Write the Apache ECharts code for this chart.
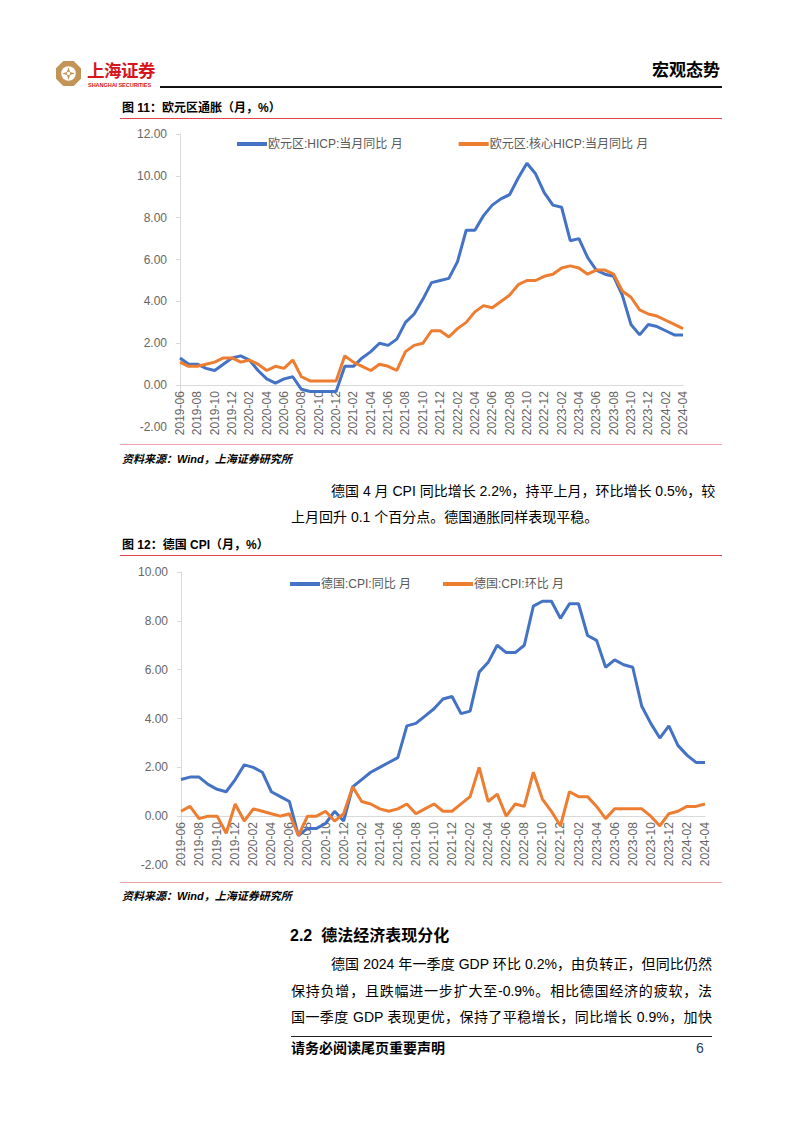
<!DOCTYPE html>
<html><head><meta charset="utf-8">
<script src="https://cdn.jsdelivr.net/npm/echarts/dist/echarts.min.js"></script>
<style>
html,body{margin:0;padding:0;background:#fff;}
#page{position:relative;width:802px;height:1133px;overflow:hidden;background:#fff;font-family:"Liberation Sans","Noto Sans CJK SC",sans-serif;color:#000;}
.t{position:absolute;white-space:nowrap;}
.ln{position:absolute;}
.just{text-align:justify;text-align-last:justify;}
</style></head>
<body><div id="page">
<svg class="ln" style="left:56px;top:61px" width="25" height="25" viewBox="0 0 24 24">
  <polygon points="7,0 17,0 24,7 24,17 17,24 7,24 0,17 0,7" fill="#C39457"/>
  <circle cx="12" cy="12" r="7" fill="#fff"/>
  <polygon points="12,6 13.5,10.5 18,12 13.5,13.5 12,18 10.5,13.5 6,12 10.5,10.5" fill="#C39457"/>
  <circle cx="12" cy="12" r="1.6" fill="#fff"/>
</svg>
<div class="t" style="left:87px;top:61px;font-size:17.5px;line-height:20px;font-weight:bold;color:#D5161E;letter-spacing:-0.5px">上海证券</div>
<div class="t" style="left:88px;top:82px;font-size:5.6px;line-height:7px;font-weight:bold;color:#D5161E;letter-spacing:-0.1px">SHANGHAI SECURITIES</div>
<div class="t" style="left:652px;top:61px;font-size:17px;line-height:20px;font-weight:bold">宏观态势</div>
<div class="ln" style="left:160px;top:86px;width:562px;height:2px;background:#111"></div>

<div class="t" style="left:122px;top:101px;font-size:12px;line-height:14px;font-weight:bold">图 11：欧元区通胀（月，%）</div>
<div class="ln" style="left:120px;top:118px;width:602px;height:1px;background:#E2434B"></div>

<div id="c1" class="ln" style="left:0;top:120px;width:802px;height:330px"></div>

<div class="ln" style="left:120px;top:444px;width:602px;height:1px;background:#F0A3A7;z-index:3"></div>
<div class="t" style="left:122px;top:452px;font-size:11px;line-height:14px;font-weight:bold;font-style:italic">资料来源：Wind，上海证券研究所</div>

<div class="t just" style="left:331px;top:482px;width:381px;font-size:14px;line-height:18px">德国 4 月 CPI 同比增长 2.2%，持平上月，环比增长 0.5%，较</div>
<div class="t" style="left:291px;top:508px;font-size:14px;line-height:18px">上月回升 0.1 个百分点。德国通胀同样表现平稳。</div>

<div class="t" style="left:122px;top:538px;font-size:12px;line-height:14px;font-weight:bold">图 12：德国 CPI（月，%）</div>
<div class="ln" style="left:120px;top:555px;width:602px;height:1px;background:#E2434B"></div>

<div id="c2" class="ln" style="left:0;top:557px;width:802px;height:330px"></div>

<div class="ln" style="left:120px;top:882px;width:602px;height:1px;background:#F0A3A7;z-index:3"></div>
<div class="t" style="left:122px;top:889px;font-size:11px;line-height:14px;font-weight:bold;font-style:italic">资料来源：Wind，上海证券研究所</div>

<div class="t" style="left:290px;top:926px;font-size:16px;line-height:20px;font-weight:bold">2.2&nbsp; 德法经济表现分化</div>
<div class="t just" style="left:331px;top:955px;width:381px;font-size:14px;line-height:18px">德国 2024 年一季度 GDP 环比 0.2%，由负转正，但同比仍然</div>
<div class="t just" style="left:291px;top:982px;width:421px;font-size:14px;line-height:18px">保持负增，且跌幅进一步扩大至-0.9%。相比德国经济的疲软，法</div>
<div class="t just" style="left:291px;top:1008px;width:421px;font-size:14px;line-height:18px">国一季度 GDP 表现更优，保持了平稳增长，同比增长 0.9%，加快</div>

<div class="ln" style="left:291px;top:1036px;width:421px;height:1px;background:#222"></div>
<div class="t" style="left:291px;top:1039px;font-size:14px;line-height:18px;font-weight:bold">请务必阅读尾页重要声明</div>
<div class="t" style="left:696px;top:1039px;font-size:14px;line-height:18px;color:#1F3A68">6</div>
</div>
<script>
const months = ['2019-06','2019-07','2019-08','2019-09','2019-10','2019-11','2019-12',
'2020-01','2020-02','2020-03','2020-04','2020-05','2020-06','2020-07','2020-08','2020-09','2020-10','2020-11','2020-12',
'2021-01','2021-02','2021-03','2021-04','2021-05','2021-06','2021-07','2021-08','2021-09','2021-10','2021-11','2021-12',
'2022-01','2022-02','2022-03','2022-04','2022-05','2022-06','2022-07','2022-08','2022-09','2022-10','2022-11','2022-12',
'2023-01','2023-02','2023-03','2023-04','2023-05','2023-06','2023-07','2023-08','2023-09','2023-10','2023-11','2023-12',
'2024-01','2024-02','2024-03','2024-04'];

const euroHicp = [1.3,1.0,1.0,0.8,0.7,1.0,1.3,
1.4,1.2,0.7,0.3,0.1,0.3,0.4,-0.2,-0.3,-0.3,-0.3,-0.3,
0.9,0.9,1.3,1.6,2.0,1.9,2.2,3.0,3.4,4.1,4.9,5.0,
5.1,5.9,7.4,7.4,8.1,8.6,8.9,9.1,9.9,10.6,10.1,9.2,
8.6,8.5,6.9,7.0,6.1,5.5,5.3,5.2,4.3,2.9,2.4,2.9,
2.8,2.6,2.4,2.4];

const euroCore = [1.1,0.9,0.9,1.0,1.1,1.3,1.3,
1.1,1.2,1.0,0.7,0.9,0.8,1.2,0.4,0.2,0.2,0.2,0.2,
1.4,1.1,0.9,0.7,1.0,0.9,0.7,1.6,1.9,2.0,2.6,2.6,
2.3,2.7,3.0,3.5,3.8,3.7,4.0,4.3,4.8,5.0,5.0,5.2,
5.3,5.6,5.7,5.6,5.3,5.5,5.5,5.3,4.5,4.2,3.6,3.4,
3.3,3.1,2.9,2.7];

const deYoy = [1.5,1.6,1.6,1.3,1.1,1.0,1.5,
2.1,2.0,1.8,1.0,0.8,0.6,-0.8,-0.5,-0.5,-0.3,0.2,-0.2,
1.2,1.5,1.8,2.0,2.2,2.4,3.7,3.8,4.1,4.4,4.8,4.9,
4.2,4.3,5.9,6.3,7.0,6.7,6.7,7.0,8.6,8.8,8.8,8.1,
8.7,8.7,7.4,7.2,6.1,6.4,6.2,6.1,4.5,3.8,3.2,3.7,
2.9,2.5,2.2,2.2];

const deMom = [0.2,0.4,-0.1,0.0,0.0,-0.7,0.5,
-0.2,0.3,0.2,0.1,0.0,0.1,-0.8,0.0,0.0,0.2,-0.2,0.1,
1.2,0.6,0.5,0.3,0.2,0.3,0.5,0.1,0.3,0.5,0.2,0.2,
0.5,0.8,2.0,0.6,0.9,0.0,0.5,0.4,1.8,0.7,0.2,-0.4,
1.0,0.8,0.8,0.4,-0.1,0.3,0.3,0.3,0.3,0.0,-0.4,0.1,
0.2,0.4,0.4,0.5];

const names1 = ['欧元区:HICP:当月同比 月','欧元区:核心HICP:当月同比 月'];
const names2 = ['德国:CPI:同比 月','德国:CPI:环比 月'];
const yMin1 = -2, yMax1 = 12, yMin2 = -2, yMax2 = 10, yStep = 2;

const BLUE = '#4472C4', ORANGE = '#ED7D31';
const FONT = '"Liberation Sans","Noto Sans CJK SC",sans-serif';

function makeOption(chartH, grid, legendPos, legendGap, names, s1, s2, ymin, ymax) {
  grid.containLabel = false;
  grid.outerBoundsMode = 'none';
  // pixel distance from the grid bottom (ymin) up to the zero line, from the value scale
  const gridH = chartH - grid.top - grid.bottom;
  const zeroOffset = gridH * (0 - ymin) / (ymax - ymin);
  return {
    animation: false,
    textStyle: {fontFamily: FONT},
    legend: {
      left: legendPos[0], top: legendPos[1], itemWidth: 30, itemHeight: 4, itemGap: legendGap,
      icon: 'rect',
      textStyle: {color: '#595959', fontSize: 12, fontFamily: FONT, padding: [0,0,0,-4]},
      data: names
    },
    grid: grid,
    xAxis: {
      type: 'category', data: months, boundaryGap: false, position: 'bottom',
      offset: -zeroOffset,
      axisLine: {onZero: false, lineStyle: {color: '#D9D9D9', width: 1}},
      axisTick: {show: false},
      axisLabel: {rotate: 90, interval: 1, color: '#666', fontSize: 12, margin: 6, fontFamily: FONT},
      splitLine: {show: false}
    },
    yAxis: {
      type: 'value', min: ymin, max: ymax, interval: yStep,
      axisLine: {show: true, lineStyle: {color: '#D9D9D9'}},
      axisTick: {show: true, length: 4, lineStyle: {color: '#D9D9D9'}},
      axisLabel: {color: '#666', fontSize: 12, margin: 13, fontFamily: FONT, formatter: v => v.toFixed(2)},
      splitLine: {show: false}
    },
    series: [
      {name: names[0], type: 'line', data: s1, showSymbol: false, symbol: 'none',
       lineStyle: {color: BLUE, width: 3}, itemStyle: {color: BLUE}},
      {name: names[1], type: 'line', data: s2, showSymbol: false, symbol: 'none',
       lineStyle: {color: ORANGE, width: 3}, itemStyle: {color: ORANGE}}
    ]
  };
}

const c1 = echarts.init(document.getElementById('c1'), null, {renderer: 'svg'});
c1.setOption(makeOption(330, {left: 180, right: 119, top: 14, bottom: 23}, [232, 13], 56, names1, euroHicp, euroCore, yMin1, yMax1));
const c2 = echarts.init(document.getElementById('c2'), null, {renderer: 'svg'});
c2.setOption(makeOption(330, {left: 181, right: 97, top: 15, bottom: 22}, [285, 16], 32, names2, deYoy, deMom, yMin2, yMax2));
</script>
</body></html>
